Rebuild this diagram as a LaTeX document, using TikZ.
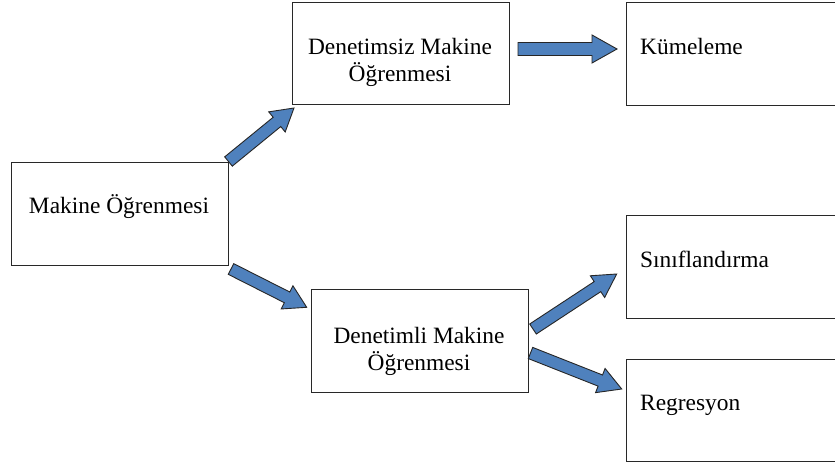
\documentclass[tikz,border=0pt]{standalone}
\usepackage{fontspec}
\setmainfont{Liberation Serif}
\usetikzlibrary{calc}
\definecolor{arrowfill}{RGB}{79,129,189}
\definecolor{boxline}{RGB}{40,40,40}
\tikzset{
  box/.style={draw=boxline, line width=1.3pt, fill=white, inner sep=0pt, anchor=north west},
  lbl/.style={font=\fontsize{23.4}{27}\selectfont, inner sep=0pt, anchor=base},
  lblw/.style={lbl, anchor=base west},
  blockarrow/.style={draw=black!85, fill=arrowfill, line width=0.9pt, line join=miter},
}
% #1 start coordinate, #2 tip coordinate, #3 shaft half width, #4 head half width, #5 head length
\newcommand\barrow[5]{%
  \coordinate (#1-#2-h) at ($(#2)!#5!(#1)$);
  \draw[blockarrow] ($(#1)!#3!-90:(#2)$) -- ($(#1-#2-h)!#3!-90:(#2)$)
    -- ($(#1-#2-h)!#4!-90:(#2)$) -- (#2) -- ($(#1-#2-h)!#4!90:(#2)$)
    -- ($(#1-#2-h)!#3!90:(#2)$) -- ($(#1)!#3!90:(#2)$) -- cycle;}
\begin{document}
\begin{tikzpicture}[x=1pt, y=-1pt]
  \useasboundingbox (0,0) rectangle (835,465);
  \clip (0,0) rectangle (835,465);
  \fill[white] (0,0) rectangle (835,465);
  % boxes
  \node[box, minimum width=217pt, minimum height=103pt] (mo) at (11,162) {};
  \node[box, minimum width=217pt, minimum height=102pt] (dz) at (292,2) {};
  \node[box, minimum width=230pt, minimum height=103pt] (km) at (626,2) {};
  \node[box, minimum width=217pt, minimum height=103pt] (dl) at (311,289) {};
  \node[box, minimum width=230pt, minimum height=103pt] (sn) at (626,215) {};
  \node[box, minimum width=230pt, minimum height=102pt] (rg) at (626,359) {};
  % labels
  \node[lbl] (mo-t) at (119,214) {Makine Öğrenmesi};
  \node[lbl] (dz-t1) at (400,55) {Denetimsiz Makine};
  \node[lbl] (dz-t2) at (400,82) {Öğrenmesi};
  \node[lbl] (dl-t1) at (419,343) {Denetimli Makine};
  \node[lbl] (dl-t2) at (419,370) {Öğrenmesi};
  \node[lblw] (km-t) at (640,55) {Kümeleme};
  \node[lblw] (sn-t) at (640,267) {Sınıflandırma};
  \node[lblw] (rg-t) at (640,410) {Regresyon};
  % arrow end points
  \coordinate (a1s) at (518,49);
  \coordinate (a1t) at (617,49);
  \coordinate (a2s) at (228.5,161.5);
  \coordinate (a2t) at (294,108);
  \coordinate (a3s) at (231,269);
  \coordinate (a3t) at (306.7,307.3);
  \coordinate (a4s) at (533,329);
  \coordinate (a4t) at (616.7,274);
  \coordinate (a5s) at (530.5,353);
  \coordinate (a5t) at (621.7,389);
  % block arrows
  \barrow{a1s}{a1t}{6.5pt}{14pt}{25pt}
  \barrow{a2s}{a2t}{6pt}{13pt}{22pt}
  \barrow{a3s}{a3t}{6pt}{13pt}{22pt}
  \barrow{a4s}{a4t}{6pt}{13pt}{23pt}
  \barrow{a5s}{a5t}{6pt}{13pt}{23pt}
\end{tikzpicture}
\end{document}
